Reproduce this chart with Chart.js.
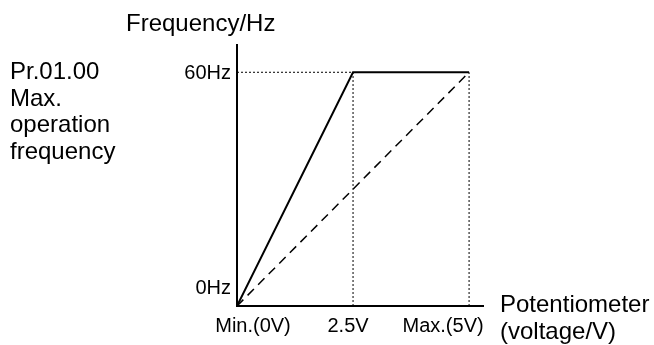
<!DOCTYPE html>
<html>
<head>
<meta charset="utf-8">
<title>Frequency vs potentiometer voltage</title>
<script src="https://cdn.jsdelivr.net/npm/chart.js"></script>
<style>
  html, body { margin: 0; padding: 0; background: #ffffff; }
  #wrap { width: 654px; height: 345px; }
</style>
</head>
<body>
<div id="wrap"><canvas id="freqChart" width="654" height="345"></canvas></div>
<script>
// Potentiometer voltage (V) and output frequency (Hz)
const voltTicks = [0, 2.5, 5];
const voltLabels = ['Min.(0V)', '2.5V', 'Max.(5V)'];
const freqTicks = [0, 60];
const freqLabels = ['0Hz', '60Hz'];

// Gain curve: reaches max frequency at half the input range
const gainVolts = [0, 2.5, 5];
const gainFreq = [0, 60, 60];

// Straight 1:1 curve over the full input range
const linearVolts = [0, 5];
const linearFreq = [0, 60];

const FONT = 'Arial, "Liberation Sans", Helvetica, sans-serif';
const INK = '#000000';

function toPoints(xs, ys) {
  return xs.map((x, i) => ({ x: x, y: ys[i] }));
}

const maxFreq = freqTicks[freqTicks.length - 1];
const kneeVolt = gainVolts[1];
const maxVolt = voltTicks[voltTicks.length - 1];

// Dotted guide lines: max-frequency level and the two voltage markers
const guideSets = [
  toPoints([0, kneeVolt], [maxFreq, maxFreq]),
  toPoints([kneeVolt, kneeVolt], [0, maxFreq]),
  toPoints([maxVolt, maxVolt], [0, maxFreq])
].map(data => ({
  data: data,
  borderColor: INK,
  borderWidth: 1,
  borderDash: [2, 2],
  pointRadius: 0
}));

// Axis captions and tick labels drawn next to the scales
const labelPlugin = {
  id: 'axisText',
  afterDraw(chart) {
    const ctx = chart.ctx;
    const xs = chart.scales.x;
    const ys = chart.scales.y;
    const area = chart.chartArea;
    ctx.save();
    ctx.fillStyle = INK;
    ctx.textBaseline = 'alphabetic';

    // tick labels
    ctx.font = '20px ' + FONT;
    ctx.textAlign = 'center';
    const xNudge = [16, -5, -26];
    voltTicks.forEach((v, i) => {
      ctx.fillText(voltLabels[i], xs.getPixelForValue(v) + xNudge[i], area.bottom + 26);
    });
    ctx.textAlign = 'right';
    const yNudge = [-12, 7];
    freqTicks.forEach((v, i) => {
      ctx.fillText(freqLabels[i], area.left - 6, ys.getPixelForValue(v) + yNudge[i]);
    });

    // axis titles
    ctx.font = '24px ' + FONT;
    ctx.textAlign = 'left';
    ctx.fillText('Frequency/Hz', 126, 31);
    ctx.fillText('Potentiometer', area.right + 17, area.bottom + 6);
    ctx.fillText('(voltage/V)', area.right + 17, area.bottom + 33);

    // parameter note on the left
    ['Pr.01.00', 'Max.', 'operation', 'frequency'].forEach((line, i) => {
      ctx.fillText(line, 10, 79 + i * 26.5);
    });
    ctx.restore();
  }
};

new Chart(document.getElementById('freqChart'), {
  type: 'line',
  data: {
    datasets: [
      {
        data: toPoints(gainVolts, gainFreq),
        borderColor: INK,
        borderWidth: 2,
        pointRadius: 0
      },
      {
        data: toPoints(linearVolts, linearFreq),
        borderColor: INK,
        borderWidth: 1.5,
        borderDash: [9, 6],
        pointRadius: 0
      },
      ...guideSets
    ]
  },
  options: {
    responsive: false,
    animation: false,
    events: [],
    layout: {
      padding: { left: 237, right: 171, top: 45, bottom: 39 }
    },
    plugins: {
      legend: { display: false },
      tooltip: { enabled: false }
    },
    scales: {
      x: {
        type: 'linear',
        min: 0,
        max: 5.3,
        grid: { display: false, drawTicks: false },
        ticks: { display: false },
        border: { display: true, color: INK, width: 2 }
      },
      y: {
        type: 'linear',
        min: 0,
        max: 67,
        grid: { display: false, drawTicks: false },
        ticks: { display: false },
        border: { display: true, color: INK, width: 2 }
      }
    }
  },
  plugins: [labelPlugin]
});
</script>
</body>
</html>
